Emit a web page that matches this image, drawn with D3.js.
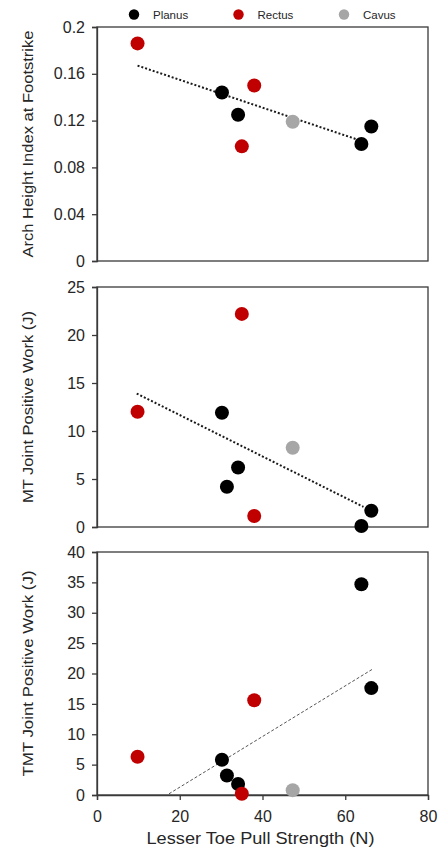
<!DOCTYPE html>
<html>
<head>
<meta charset="utf-8">
<script src="https://cdn.jsdelivr.net/npm/d3@7"></script>
<style>
    body { margin: 0; background: #fff; }
    text { font-family: "Liberation Sans", Arial, sans-serif; fill: #262626; }
</style>
</head>
<body>
<script>
// groups and colours
const groups = ["Planus", "Rectus", "Cavus"];
const groupColors = ["#000000", "#c00000", "#a6a6a6"];

// x values (lesser toe pull strength, N) per group
const planusX = [30.2, 31.4, 34.1, 63.9, 66.3];
const rectusX = [9.8, 35.0, 38.0];
const cavusX = [47.3];

// panel 1: arch height index (planus subject 2 has no value)
const archPlanus = [0.144, null, 0.125, 0.100, 0.115];
const archRectus = [0.186, 0.098, 0.150];
const archCavus = [0.119];
const archTrendX = [9.8, 63.6];
const archTrendY = [0.167, 0.103];

// panel 2: MT joint positive work (J)
const mtPlanus = [11.9, 4.2, 6.2, 0.1, 1.7];
const mtRectus = [12.0, 22.2, 1.15];
const mtCavus = [8.25];
const mtTrendX = [9.6, 64.4];
const mtTrendY = [13.9, 2.1];

// panel 3: TMT joint positive work (J)
const tmtPlanus = [5.8, 3.2, 1.8, 34.7, 17.6];
const tmtRectus = [6.3, 0.2, 15.6];
const tmtCavus = [0.8];
const tmtTrendX = [17.4, 66.8];
const tmtTrendY = [0.2, 20.8];

const xTicks = [0, 20, 40, 60, 80];
const archTicks = [0, 0.04, 0.08, 0.12, 0.16, 0.2];
const mtTicks = [0, 5, 10, 15, 20, 25];
const tmtTicks = [0, 5, 10, 15, 20, 25, 30, 35, 40];

const width = 446, height = 848;
const left = 97, right = 428;

let svg = d3.select("body").append("svg")
    .attr("width", width)
    .attr("height", height);

let xScale = d3.scaleLinear()
    .domain([0, 80])
    .range([left, right]);

function pairs(xs, ys) {
    let out = [];
    xs.forEach((x, i) => {
        if (ys[i] !== null && ys[i] !== undefined) out.push({ x: x, y: ys[i] });
    });
    return out;
}

const panels = [
    { top: 27, bottom: 261, ticks: archTicks, title: "Arch Height Index at Footstrike", titleLen: 227,
      series: [pairs(planusX, archPlanus), pairs(rectusX, archRectus), pairs(cavusX, archCavus)],
      trend: pairs(archTrendX, archTrendY), dash: "2,2", trendWidth: 2, trendColor: "#1a1a1a" },
    { top: 287, bottom: 527, ticks: mtTicks, title: "MT Joint Positive Work (J)", titleLen: 192,
      series: [pairs(planusX, mtPlanus), pairs(rectusX, mtRectus), pairs(cavusX, mtCavus)],
      trend: pairs(mtTrendX, mtTrendY), dash: "2,2", trendWidth: 2, trendColor: "#1a1a1a" },
    { top: 552, bottom: 795, ticks: tmtTicks, title: "TMT Joint Positive Work (J)", titleLen: 206,
      series: [pairs(planusX, tmtPlanus), pairs(rectusX, tmtRectus), pairs(cavusX, tmtCavus)],
      trend: pairs(tmtTrendX, tmtTrendY), dash: "3,2", trendWidth: 1, trendColor: "#555555", last: true }
];

panels.forEach(p => {
    const ticks = p.ticks;
    let yScale = d3.scaleLinear()
        .domain([ticks[0], ticks[ticks.length - 1]])
        .range([p.bottom, p.top]);

    // frame
    svg.append("rect")
        .attr("x", left)
        .attr("y", p.top)
        .attr("width", right - left)
        .attr("height", p.bottom - p.top)
        .attr("fill", "none")
        .attr("stroke", "#3a3a3a")
        .attr("stroke-width", 1.3);

    let yAxis = svg.append("g")
        .attr("transform", "translate(" + left + ",0)")
        .call(d3.axisLeft(yScale)
            .tickValues(ticks)
            .tickSize(5)
            .tickPadding(7)
            .tickFormat(d => String(+d.toFixed(2))));
    yAxis.selectAll("path, line").attr("stroke", "#3a3a3a").attr("stroke-width", 1.3);
    yAxis.selectAll("text").attr("font-size", 16).attr("fill", "#262626")
        .attr("font-family", "\"Liberation Sans\", Arial, sans-serif");

    if (p.last) {
        let xAxis = svg.append("g")
            .attr("transform", "translate(0," + p.bottom + ")")
            .call(d3.axisBottom(xScale)
                .tickValues(xTicks)
                .tickSize(5)
                .tickPadding(11));
        xAxis.selectAll("path, line").attr("stroke", "#3a3a3a").attr("stroke-width", 1.3);
        xAxis.selectAll("text").attr("font-size", 16).attr("fill", "#262626")
            .attr("font-family", "\"Liberation Sans\", Arial, sans-serif");
    }

    // y title
    svg.append("text")
        .attr("transform", "translate(33," + ((p.top + p.bottom) / 2) + ") rotate(-90)")
        .attr("text-anchor", "middle")
        .attr("font-size", 14)
        .attr("textLength", p.titleLen)
        .attr("lengthAdjust", "spacingAndGlyphs")
        .text(p.title);

    // trend line
    let line = d3.line()
        .x(d => xScale(d.x))
        .y(d => yScale(d.y));
    svg.append("path")
        .datum(p.trend)
        .attr("d", line)
        .attr("fill", "none")
        .attr("stroke", p.trendColor)
        .attr("stroke-width", p.trendWidth)
        .attr("stroke-dasharray", p.dash);

    // points, drawn planus, rectus, cavus
    p.series.forEach((pts, gi) => {
        svg.append("g").selectAll("circle")
            .data(pts)
            .join("circle")
            .attr("cx", d => xScale(d.x))
            .attr("cy", d => yScale(d.y))
            .attr("r", 7)
            .attr("fill", groupColors[gi]);
    });
});

// x title, sits right at the bottom edge like the original
svg.append("text")
    .attr("x", (left + right) / 2 - 2)
    .attr("y", 844)
    .attr("text-anchor", "middle")
    .attr("font-size", 16.5)
    .attr("textLength", 228)
    .attr("lengthAdjust", "spacingAndGlyphs")
    .text("Lesser Toe Pull Strength (N)");

// legend
const legendX = [134, 238.5, 344];
let legend = svg.append("g");
groups.forEach((g, i) => {
    legend.append("circle")
        .attr("cx", legendX[i])
        .attr("cy", 14.5)
        .attr("r", 5.2)
        .attr("fill", groupColors[i]);
    legend.append("text")
        .attr("x", legendX[i] + 19)
        .attr("y", 18.5)
        .attr("font-size", 11.5)
        .text(g);
});
</script>
</body>
</html>
